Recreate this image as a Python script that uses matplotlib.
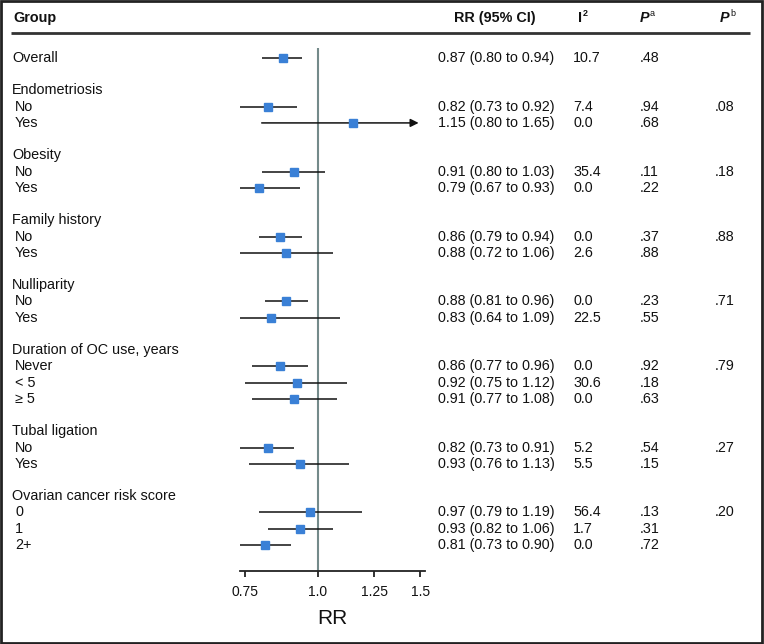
import matplotlib
matplotlib.use("Agg")
import matplotlib.pyplot as plt
import matplotlib.transforms as mtransforms
from matplotlib.patches import Rectangle
import numpy as np

# ---------------- data ----------------
labels = ["Overall", "", "Endometriosis", "No", "Yes", "", "Obesity", "No", "Yes", "",
          "Family history", "No", "Yes", "", "Nulliparity", "No", "Yes", "",
          "Duration of OC use, years", "Never", "< 5", "\u2265 5", "",
          "Tubal ligation", "No", "Yes", "", "Ovarian cancer risk score", "0", "1", "2+"]
rr = [0.87, None, None, 0.82, 1.15, None, None, 0.91, 0.79, None, None, 0.86, 0.88, None,
      None, 0.88, 0.83, None, None, 0.86, 0.92, 0.91, None, None, 0.82, 0.93, None,
      None, 0.97, 0.93, 0.81]
lo = [0.80, None, None, 0.73, 0.80, None, None, 0.80, 0.67, None, None, 0.79, 0.72, None,
      None, 0.81, 0.64, None, None, 0.77, 0.75, 0.77, None, None, 0.73, 0.76, None,
      None, 0.79, 0.82, 0.73]
hi = [0.94, None, None, 0.92, 1.65, None, None, 1.03, 0.93, None, None, 0.94, 1.06, None,
      None, 0.96, 1.09, None, None, 0.96, 1.12, 1.08, None, None, 0.91, 1.13, None,
      None, 1.19, 1.06, 0.90]
i2 = ["10.7", "", "", "7.4", "0.0", "", "", "35.4", "0.0", "", "", "0.0", "2.6", "",
      "", "0.0", "22.5", "", "", "0.0", "30.6", "0.0", "", "", "5.2", "5.5", "",
      "", "56.4", "1.7", "0.0"]
pa = [".48", "", "", ".94", ".68", "", "", ".11", ".22", "", "", ".37", ".88", "",
      "", ".23", ".55", "", "", ".92", ".18", ".63", "", "", ".54", ".15", "",
      "", ".13", ".31", ".72"]
pb = ["", "", "", ".08", "", "", "", ".18", "", "", "", ".88", "", "",
      "", ".71", "", "", "", ".79", "", "", "", "", ".27", "", "",
      "", ".20", "", ""]
xticks = [0.75, 1.0, 1.25, 1.5]
xticklabels = ["0.75", "1.0", "1.25", "1.5"]
xlim = (0.734, 1.529)

# ---------------- style ----------------
W, H = 764, 644
NARROW = ["Liberation Sans Narrow", "Liberation Sans", "DejaVu Sans"]
REG = ["Liberation Sans", "DejaVu Sans"]
plt.rcParams["font.family"] = REG
BLUE = "#3a80d6"
REF = "#748a8a"
INK = "#111111"

fig = plt.figure(figsize=(W / 100, H / 100), dpi=100)
renderer = fig.canvas.get_renderer()


def fit_size(text, family, target_px, base=10.5, weight="normal"):
    t = fig.text(0, 0, text, fontsize=base, family=family, fontweight=weight)
    w = t.get_window_extent(renderer).width
    t.remove()
    return base * target_px / w


FS_LAB = fit_size("Overall", REG, 46)
FS_VAL = fit_size("0.87 (0.80 to 0.94)", NARROW, 117)
FS_HEAD = fit_size("RR (95% CI)", REG, 82, weight="bold")

# overlay axes in pixel coordinates
ov = fig.add_axes([0, 0, 1, 1])
ov.set_xlim(0, W)
ov.set_ylim(H, 0)
ov.axis("off")

# forest axes
n = len(labels)
row0_px, row_step = 58, 16.23
ax_top_px, ax_bot_px = 48, 571
ax_l_px, ax_r_px = 240, 425
ax = fig.add_axes([ax_l_px / W, (H - ax_bot_px) / H,
                   (ax_r_px - ax_l_px) / W, (ax_bot_px - ax_top_px) / H])
ax.set_xscale("log")
ax.set_xlim(*xlim)
ax.set_ylim((ax_bot_px - row0_px) / row_step, (ax_top_px - row0_px) / row_step)
for s in ["top", "right", "left"]:
    ax.spines[s].set_visible(False)
ax.spines["bottom"].set_linewidth(1.3)
ax.spines["bottom"].set_color("#222222")
ax.set_yticks([])
ax.xaxis.set_minor_locator(matplotlib.ticker.NullLocator())
ax.set_xticks(xticks)
ax.set_xticklabels(xticklabels, fontsize=10, color=INK)
ax.tick_params(axis="x", direction="out", length=4, width=1.3, color="#222222", pad=6)
ax.patch.set_alpha(0)
ax.axvline(1.0, color=REF, lw=1.5, zorder=1)
ax.set_xlabel("RR", fontsize=15, labelpad=7, color=INK)

ys = np.arange(n)
for i in range(n):
    if rr[i] is None:
        continue
    l, h = lo[i], hi[i]
    if h > xlim[1]:
        tip = xlim[1] * 0.975
        ax.annotate("", xy=(tip, ys[i]), xytext=(l, ys[i]),
                    arrowprops=dict(arrowstyle="-|>", color=INK, lw=1.1,
                                    mutation_scale=12, shrinkA=0, shrinkB=0), zorder=2)
    else:
        ax.plot([l, h], [ys[i], ys[i]], color=INK, lw=1.1, zorder=2,
                solid_capstyle="butt")
    ax.plot(rr[i], ys[i], marker="s", ms=5.4, color=BLUE, mec=BLUE, zorder=3)

# text in blended coords: x pixels, y rows
tr = mtransforms.blended_transform_factory(ov.transData, ax.transData)
for i in range(n):
    lab = labels[i]
    if not lab:
        continue
    sub = rr[i] is not None and lab != "Overall"
    ov.text(15 if sub else 12, ys[i], lab, transform=tr, fontsize=FS_LAB, family=REG,
            va="center", ha="left", color=INK)
    vk = dict(transform=tr, fontsize=FS_VAL, family=NARROW, va="center", ha="left",
              color=INK)
    if rr[i] is not None:
        ov.text(438, ys[i], f"{rr[i]:.2f} ({lo[i]:.2f} to {hi[i]:.2f})", **vk)
    if i2[i]:
        ov.text(573, ys[i], i2[i], **vk)
    if pa[i]:
        ov.text(640, ys[i], pa[i], **vk)
    if pb[i]:
        ov.text(715, ys[i], pb[i], **vk)

# header
hy = 18
hk = dict(fontsize=FS_HEAD, fontweight="bold", va="center", ha="left", family=REG,
          color=INK)
ov.text(13, hy, "Group", **hk)
ov.text(536, hy, "RR (95% CI)", **{**hk, "ha": "right"})
ov.text(578, hy, "I", **hk)
ov.text(582.5, hy - 5, "2", **{**hk, "fontsize": 6.5})
ov.text(640, hy, "P", style="italic", **hk)
ov.text(650, hy - 5, "a", **{**hk, "fontsize": 6.5, "fontweight": "normal"})
ov.text(720, hy, "P", style="italic", **hk)
ov.text(730, hy - 5, "b", **{**hk, "fontsize": 6.5, "fontweight": "normal"})
ov.plot([11, 750], [33, 33], color="#333333", lw=2.0, solid_capstyle="butt")

# frame
fig.patches.append(Rectangle((0.001, 0.001), 0.997, 0.997, transform=fig.transFigure,
                             fill=False, ec="#222222", lw=2.0))

fig.savefig("out.png", dpi=100)
